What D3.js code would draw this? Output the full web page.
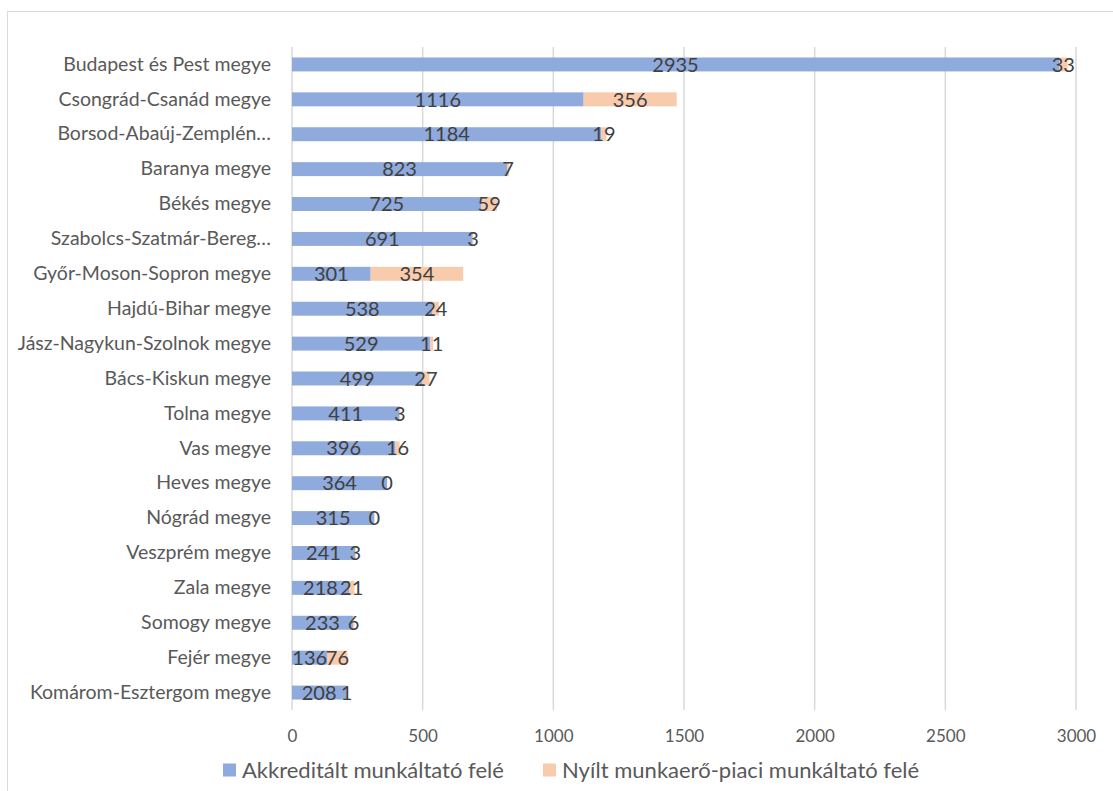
<!DOCTYPE html>
<html>
<head>
<meta charset="utf-8">
<script src="https://cdn.jsdelivr.net/npm/d3@7"></script>
<style>
  body { margin: 0; background: #fff; }
  svg text { font-family: Lato, "Open Sans", sans-serif; }
</style>
</head>
<body>
<div id="chart"></div>
<script>
// megyék, felülről lefelé
var categories = [
  "Budapest és Pest megye",
  "Csongrád-Csanád megye",
  "Borsod-Abaúj-Zemplén…",
  "Baranya megye",
  "Békés megye",
  "Szabolcs-Szatmár-Bereg…",
  "Győr-Moson-Sopron megye",
  "Hajdú-Bihar megye",
  "Jász-Nagykun-Szolnok megye",
  "Bács-Kiskun megye",
  "Tolna megye",
  "Vas megye",
  "Heves megye",
  "Nógrád megye",
  "Veszprém megye",
  "Zala megye",
  "Somogy megye",
  "Fejér megye",
  "Komárom-Esztergom megye"
];
var akkreditalt = [2935, 1116, 1184, 823, 725, 691, 301, 538, 529, 499, 411, 396, 364, 315, 241, 218, 233, 136, 208];
var nyilt = [33, 356, 19, 7, 59, 3, 354, 24, 11, 27, 3, 16, 0, 0, 3, 21, 6, 76, 1];
var seriesNames = ["Akkreditált munkáltató felé", "Nyílt munkaerő-piaci munkáltató felé"];
var xTicks = [0, 500, 1000, 1500, 2000, 2500, 3000];

var W = 1113, H = 791;
var margin = {top: 47, left: 292, right: 37, bottom: 81};
var colors = ["#8faadc", "#f8cbad"];

var svg = d3.select("#chart").append("svg")
    .attr("width", W)
    .attr("height", H);

// keret
svg.append("rect")
    .attr("x", 7.5).attr("y", 11.5)
    .attr("width", 1130).attr("height", 800)
    .attr("fill", "none")
    .attr("stroke", "#d9d9d9");

var x = d3.scaleLinear()
    .domain([0, 3000])
    .range([margin.left, 1076]);

var y = d3.scaleBand()
    .domain(categories)
    .range([margin.top, H - margin.bottom])
    .paddingInner(0.6)
    .paddingOuter(0.3);

// gridlines
svg.append("g")
    .selectAll("line")
    .data(xTicks)
    .enter()
    .append("line")
    .attr("x1", d => x(d)).attr("x2", d => x(d))
    .attr("y1", margin.top).attr("y2", H - margin.bottom)
    .attr("stroke", "#d9d9d9")
    .attr("stroke-width", 1.5);

// x axis labels
var xAxis = svg.append("g")
    .attr("transform", "translate(0," + (H - margin.bottom) + ")")
    .call(d3.axisBottom(x).tickValues(xTicks).tickFormat(d3.format("d")).tickSize(0).tickPadding(20));
xAxis.select(".domain").remove();
xAxis.selectAll("text")
    .attr("fill", "#595959")
    .style("font-size", "17px")
    .style("font-family", "Lato, sans-serif");

// y axis labels
var yAxis = svg.append("g")
    .attr("transform", "translate(" + margin.left + ",0)")
    .call(d3.axisLeft(y).tickSize(0).tickPadding(21));
yAxis.select(".domain").remove();
yAxis.selectAll("text")
    .attr("fill", "#595959")
    .style("font-size", "19.5px")
    .style("font-family", "Lato, sans-serif");

var rows = categories.map(function(c, i) {
  return {cat: c, a: akkreditalt[i], n: nyilt[i]};
});

var bars = svg.append("g");
// kék szakasz
bars.selectAll(".ak")
    .data(rows)
    .enter()
    .append("rect")
    .attr("class", "ak")
    .attr("x", d => x(0))
    .attr("y", d => y(d.cat))
    .attr("width", d => x(d.a) - x(0))
    .attr("height", y.bandwidth())
    .attr("fill", colors[0]);
// narancs szakasz
bars.selectAll(".ny")
    .data(rows)
    .enter()
    .append("rect")
    .attr("class", "ny")
    .attr("x", d => x(d.a))
    .attr("y", d => y(d.cat))
    .attr("width", d => x(d.a + d.n) - x(d.a))
    .attr("height", y.bandwidth())
    .attr("fill", colors[1]);

// data labels
var labels = svg.append("g")
    .style("font-size", "20px")
    .attr("fill", "#404040")
    .attr("text-anchor", "middle");
labels.selectAll(".la")
    .data(rows)
    .enter()
    .append("text")
    .attr("x", d => (x(0) + x(d.a)) / 2)
    .attr("y", d => y(d.cat) + y.bandwidth() / 2)
    .attr("dy", "0.36em")
    .text(d => d.a);
labels.selectAll(".ln")
    .data(rows)
    .enter()
    .append("text")
    .attr("x", d => (x(d.a) + x(d.a + d.n)) / 2)
    .attr("y", d => y(d.cat) + y.bandwidth() / 2)
    .attr("dy", "0.36em")
    .text(d => d.n);

// legend
var legend = svg.append("g").attr("transform", "translate(0,770)");
var legX = [223, 543];
seriesNames.forEach(function(name, i) {
  legend.append("rect")
      .attr("x", legX[i]).attr("y", -6.5)
      .attr("width", 13).attr("height", 13)
      .attr("fill", colors[i]);
  legend.append("text")
      .attr("x", legX[i] + 19)
      .attr("y", 0)
      .attr("dy", "0.36em")
      .attr("fill", "#595959")
      .style("font-size", "22px")
      .text(name);
});
</script>
</body>
</html>
